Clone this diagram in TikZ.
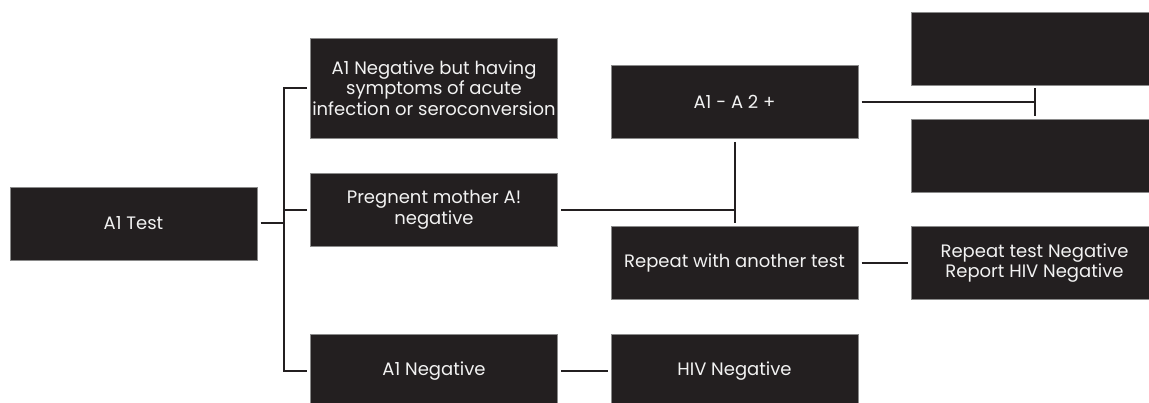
\documentclass[tikz,border=0pt]{standalone}
\usepackage{fontspec}
\setmainfont{Poppins}
\definecolor{boxfill}{HTML}{231F20}
\definecolor{boxedge}{HTML}{8A8A8A}
\definecolor{wire}{HTML}{231F20}
\definecolor{label}{HTML}{F2F2F2}
\tikzset{
  box/.style={rectangle, fill=boxfill, draw=boxedge, line width=0.8pt,
    minimum width=247pt, minimum height=73pt, inner sep=0pt, outer sep=3.5pt,
    text=label, align=center, font=\fontsize{18}{20.5}\selectfont},
  wirestyle/.style={draw=wire, line width=2pt}
}
\begin{document}
\begin{tikzpicture}[x=1pt, y=1pt]
\useasboundingbox (0,0) rectangle (1149,-403);
\clip (0,0) rectangle (1149,-403);
\fill[white] (0,0) rectangle (1149,-403);

% first column
\node[box] (test) at (133.5,-223.5) {A1 Test};

% second column
\node[box, minimum height=100pt] (symp) at (434,-88) {A1 Negative but having\\symptoms of acute\\infection or seroconversion};
\node[box] (preg) at (434,-209.7) {Pregnent mother A!\\negative};
\node[box] (aneg) at (434,-371) {A1 Negative};

% third column
\node[box] (a1a2) at (734.5,-102) {A1 - A 2 +};
\node[box] (again) at (734.5,-263.3) {Repeat with another test};
\node[box] (hivneg) at (734.5,-371) {HIV Negative};

% fourth column
\node[box] (up) at (1034.5,-48.5) {};
\node[box] (down) at (1034.5,-156) {};
\node[box] (report) at (1034.5,-263.3) {Repeat test Negative\\Report HIV Negative};

% bus joining the first test to its outcomes
\coordinate (bus) at (284,0);
\draw[wirestyle] (test.east) -- (test.east -| bus);
\draw[wirestyle] (symp.west) -- (symp.west -| bus) -- (aneg.west -| bus) -- (aneg.west);
\draw[wirestyle] (preg.west) -- (preg.west -| bus);

% second test
\draw[wirestyle] (a1a2.south) -- (again.north);
\draw[wirestyle] (preg.east) -- (preg.east -| again.north);
\draw[wirestyle] (a1a2.east) -- (a1a2.east -| up.south);
\draw[wirestyle] (up.south) -- (down.north);
\draw[wirestyle] (again.east) -- (report.west);
\draw[wirestyle] (aneg.east) -- (hivneg.west);
\end{tikzpicture}
\end{document}
